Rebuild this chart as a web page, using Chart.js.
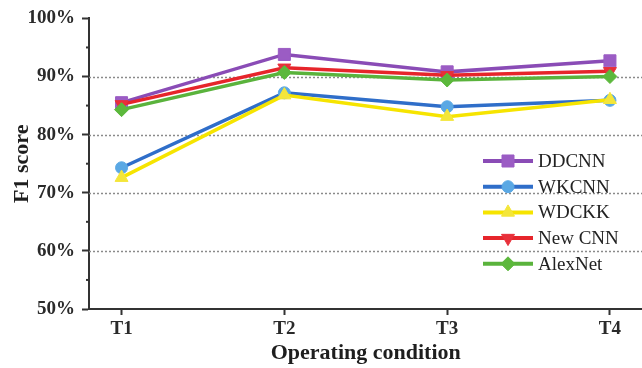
<!DOCTYPE html>
<html>
<head>
<meta charset="utf-8">
<script src="https://cdn.jsdelivr.net/npm/chart.js@4"></script>
<style>
html,body{margin:0;padding:0;overflow:hidden;background:#fff;width:642px;height:368px;}
#wrap{width:652px;height:368px;}
</style>
</head>
<body>
<div id="wrap"><canvas id="c" width="652" height="368"></canvas></div>
<script>
const categories = ['T1', 'T2', 'T3', 'T4'];
const seriesNames = ['DDCNN', 'WKCNN', 'WDCKK', 'New CNN', 'AlexNet'];
const ddcnn   = [85.5, 93.8, 90.8, 92.7];
const wkcnn   = [74.3, 87.2, 84.8, 85.9];
const wdckk   = [72.6, 86.8, 83.1, 86.0];
const newcnn  = [85.2, 91.5, 90.2, 90.9];
const alexnet = [84.3, 90.7, 89.4, 90.0];
const yMin = 50, yMax = 100, yStep = 5, yMajor = 10;

const FONT = "'Liberation Serif', 'Times New Roman', serif";
const DARK = '#333333';

const styles = [
  {line:'#8a4cb6', fill:'#9b5cc4', point:'rect', radius:8.5, rotation:0},
  {line:'#2f6ec9', fill:'#5aa8e4', point:'circle', radius:6, rotation:0},
  {line:'#f6e400', fill:'#f4e63a', point:'triangle', radius:7.5, rotation:0},
  {line:'#e6252b', fill:'#e8303a', point:'triangle', radius:7.5, rotation:180},
  {line:'#5ab33c', fill:'#5cb83c', point:'rectRot', radius:7, rotation:0}
];
const values = [ddcnn, wkcnn, wdckk, newcnn, alexnet];

const datasets = values.map((arr, i) => ({
  label: seriesNames[i],
  data: arr.map((v, j) => ({x: j + 1, y: v})),
  borderColor: styles[i].line,
  backgroundColor: styles[i].fill,
  pointBackgroundColor: styles[i].fill,
  pointBorderColor: styles[i].fill,
  pointBorderWidth: 1,
  pointStyle: styles[i].point,
  pointRadius: styles[i].radius,
  pointRotation: styles[i].rotation,
  borderWidth: 3.5,
  tension: 0,
  order: values.length - i
}));

const gridPlugin = {
  id: 'customGrid',
  beforeDatasetsDraw(chart) {
    const {ctx, chartArea} = chart;
    const y = chart.scales.y;
    ctx.save();
    ctx.strokeStyle = '#8a8a8a';
    ctx.lineWidth = 1.5;
    ctx.setLineDash([2, 2]);
    y.ticks.forEach(t => {
      if (t.value % yMajor === 0 && t.value > yMin && t.value < yMax) {
        const py = Math.round(y.getPixelForValue(t.value)) + 0.5;
        ctx.beginPath();
        ctx.moveTo(chartArea.left, py);
        ctx.lineTo(chartArea.right, py);
        ctx.stroke();
      }
    });
    ctx.restore();
  },
  afterDraw(chart) {
    const {ctx, chartArea} = chart;
    const y = chart.scales.y;
    // minor ticks
    ctx.save();
    ctx.strokeStyle = DARK;
    ctx.lineWidth = 2;
    y.ticks.forEach(t => {
      if (t.value % yMajor !== 0) {
        const py = y.getPixelForValue(t.value);
        ctx.beginPath();
        ctx.moveTo(chartArea.left - 3, py);
        ctx.lineTo(chartArea.left, py);
        ctx.stroke();
      }
    });
    ctx.restore();
    // legend
    ctx.save();
    const lx0 = 483, lx1 = 533, tx = 538;
    const rowY0 = 161, rowH = 25.7;
    chart.data.datasets.forEach((ds, i) => {
      const ry = rowY0 + i * rowH;
      ctx.strokeStyle = ds.borderColor;
      ctx.lineWidth = 4;
      ctx.setLineDash([]);
      ctx.beginPath();
      ctx.moveTo(lx0, ry);
      ctx.lineTo(lx1, ry);
      ctx.stroke();
      ctx.fillStyle = ds.pointBackgroundColor;
      ctx.strokeStyle = ds.pointBorderColor;
      ctx.lineWidth = 1;
      Chart.helpers.drawPoint(ctx, {pointStyle: ds.pointStyle, radius: ds.pointRadius, rotation: ds.pointRotation, borderWidth: 1}, (lx0 + lx1) / 2, ry);
      ctx.fillStyle = '#222222';
      ctx.font = "19px " + FONT;
      ctx.textAlign = 'left';
      ctx.textBaseline = 'middle';
      ctx.fillText(ds.label, tx, ry + 1);
    });
    ctx.restore();
  }
};

new Chart(document.getElementById('c'), {
  type: 'line',
  data: {datasets},
  plugins: [gridPlugin],
  options: {
    responsive: false,
    devicePixelRatio: 1,
    animation: false,
    layout: {padding: {top: 16, left: 0, right: 0, bottom: 0}},
    plugins: {legend: {display: false}, tooltip: {enabled: false}},
    scales: {
      x: {
        type: 'linear',
        min: 0.8,
        max: 4.2,
        afterBuildTicks(scale) {
          scale.ticks = categories.map((c, i) => ({value: i + 1}));
        },
        afterFit(scale) { scale.height = 59; },
        ticks: {
          callback: (v) => categories[Math.round(v) - 1] || '',
          font: {family: FONT, size: 19, weight: 'bold'},
          color: '#2a2a2a',
          padding: 3,
          maxRotation: 0,
          autoSkip: false
        },
        grid: {display: true, drawOnChartArea: false, drawTicks: true, tickLength: 6, tickWidth: 2, tickColor: DARK},
        border: {display: true, color: DARK, width: 2},
        title: {
          display: true,
          text: 'Operating condition',
          font: {family: FONT, size: 22, weight: 'bold'},
          color: '#1e1e1e',
          padding: {top: 0, bottom: 1}
        }
      },
      y: {
        min: yMin,
        max: yMax,
        afterFit(scale) { scale.width = 89; },
        ticks: {
          stepSize: yStep,
          callback: (v) => (v % yMajor === 0 ? v + '%' : ''),
          font: {family: FONT, size: 19, weight: 'bold'},
          color: '#2a2a2a',
          padding: 7,
          autoSkip: false
        },
        grid: {
          display: true,
          drawOnChartArea: false,
          drawTicks: true,
          tickLength: 7,
          tickWidth: 2,
          tickColor: (ctx) => (ctx.tick && ctx.tick.value % yMajor === 0 ? DARK : 'rgba(0,0,0,0)')
        },
        border: {display: true, color: DARK, width: 2},
        title: {
          display: true,
          text: 'F1 score',
          font: {family: FONT, size: 22, weight: 'bold'},
          color: '#1e1e1e',
          padding: {top: 9, bottom: 0}
        }
      }
    }
  }
});
</script>
</body>
</html>
